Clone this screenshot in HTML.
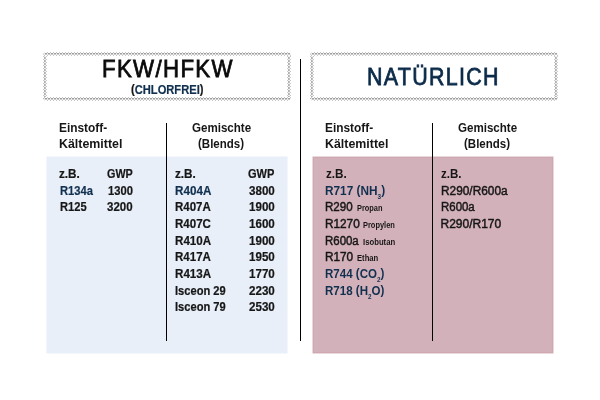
<!DOCTYPE html>
<html><head><meta charset="utf-8"><style>
html,body{margin:0;padding:0;background:#fff;}
body{width:600px;height:400px;position:relative;overflow:hidden;font-family:'Liberation Sans', sans-serif;}
#w{position:absolute;left:0;top:0;width:600px;height:400px;will-change:transform;}
.t{position:absolute;white-space:nowrap;line-height:1;transform-origin:0 0;}
</style></head><body>
<svg width="600" height="400" style="position:absolute;left:0;top:0"><rect x="46.5" y="156.5" width="241" height="197" fill="#e8eff9"/><rect x="312.5" y="156.5" width="241" height="197" fill="#d3b1ba"/><rect x="313" y="157" width="239" height="195" fill="none" stroke="#cfa8b2" stroke-width="1" transform="translate(0.5,0.5)"/></svg><svg width="600" height="400" style="position:absolute;left:0;top:0" shape-rendering="crispEdges"><defs><pattern id="pt1" patternUnits="userSpaceOnUse" x="1" y="52" width="3" height="4"><rect x="1" y="0" width="1" height="1" fill="#c2c2c2"/><rect x="0" y="1" width="1" height="1" fill="#a0a0a0"/><rect x="2" y="1" width="1" height="1" fill="#a0a0a0"/><rect x="1" y="1" width="1" height="1" fill="#ececec"/><rect x="0" y="2" width="1" height="1" fill="#c8c8c8"/><rect x="2" y="2" width="1" height="1" fill="#c8c8c8"/><rect x="1" y="2" width="1" height="1" fill="#eeeeee"/><rect x="1" y="3" width="1" height="1" fill="#c6c6c6"/></pattern><pattern id="pb1" patternUnits="userSpaceOnUse" x="1" y="97" width="3" height="4"><rect x="1" y="0" width="1" height="1" fill="#c2c2c2"/><rect x="0" y="1" width="1" height="1" fill="#a0a0a0"/><rect x="2" y="1" width="1" height="1" fill="#a0a0a0"/><rect x="1" y="1" width="1" height="1" fill="#ececec"/><rect x="0" y="2" width="1" height="1" fill="#c8c8c8"/><rect x="2" y="2" width="1" height="1" fill="#c8c8c8"/><rect x="1" y="2" width="1" height="1" fill="#eeeeee"/><rect x="1" y="3" width="1" height="1" fill="#c6c6c6"/></pattern><pattern id="pl1" patternUnits="userSpaceOnUse" x="43" y="1" width="4" height="3"><rect x="0" y="1" width="1" height="1" fill="#c8c8c8"/><rect x="1" y="0" width="1" height="1" fill="#b0b0b0"/><rect x="1" y="2" width="1" height="1" fill="#b0b0b0"/><rect x="1" y="1" width="1" height="1" fill="#efefef"/><rect x="2" y="0" width="1" height="1" fill="#c0c0c0"/><rect x="2" y="2" width="1" height="1" fill="#c0c0c0"/><rect x="2" y="1" width="1" height="1" fill="#efefef"/><rect x="3" y="1" width="1" height="1" fill="#c8c8c8"/></pattern><pattern id="pr1" patternUnits="userSpaceOnUse" x="287" y="1" width="4" height="3"><rect x="0" y="1" width="1" height="1" fill="#c8c8c8"/><rect x="1" y="0" width="1" height="1" fill="#b0b0b0"/><rect x="1" y="2" width="1" height="1" fill="#b0b0b0"/><rect x="1" y="1" width="1" height="1" fill="#efefef"/><rect x="2" y="0" width="1" height="1" fill="#c0c0c0"/><rect x="2" y="2" width="1" height="1" fill="#c0c0c0"/><rect x="2" y="1" width="1" height="1" fill="#efefef"/><rect x="3" y="1" width="1" height="1" fill="#c8c8c8"/></pattern><clipPath id="cl1"><path clip-rule="evenodd" d="M47,52H287Q291,52 291,56V97Q291,101 287,101H47Q43,101 43,97V56Q43,52 47,52Z M48.5,56H285.5Q287,56 287,57.5V95.5Q287,97 285.5,97H48.5Q47,97 47,95.5V57.5Q47,56 48.5,56Z"/></clipPath><pattern id="pt2" patternUnits="userSpaceOnUse" x="1" y="52" width="3" height="4"><rect x="1" y="0" width="1" height="1" fill="#c2c2c2"/><rect x="0" y="1" width="1" height="1" fill="#a0a0a0"/><rect x="2" y="1" width="1" height="1" fill="#a0a0a0"/><rect x="1" y="1" width="1" height="1" fill="#ececec"/><rect x="0" y="2" width="1" height="1" fill="#c8c8c8"/><rect x="2" y="2" width="1" height="1" fill="#c8c8c8"/><rect x="1" y="2" width="1" height="1" fill="#eeeeee"/><rect x="1" y="3" width="1" height="1" fill="#c6c6c6"/></pattern><pattern id="pb2" patternUnits="userSpaceOnUse" x="1" y="97" width="3" height="4"><rect x="1" y="0" width="1" height="1" fill="#c2c2c2"/><rect x="0" y="1" width="1" height="1" fill="#a0a0a0"/><rect x="2" y="1" width="1" height="1" fill="#a0a0a0"/><rect x="1" y="1" width="1" height="1" fill="#ececec"/><rect x="0" y="2" width="1" height="1" fill="#c8c8c8"/><rect x="2" y="2" width="1" height="1" fill="#c8c8c8"/><rect x="1" y="2" width="1" height="1" fill="#eeeeee"/><rect x="1" y="3" width="1" height="1" fill="#c6c6c6"/></pattern><pattern id="pl2" patternUnits="userSpaceOnUse" x="310" y="1" width="4" height="3"><rect x="0" y="1" width="1" height="1" fill="#c8c8c8"/><rect x="1" y="0" width="1" height="1" fill="#b0b0b0"/><rect x="1" y="2" width="1" height="1" fill="#b0b0b0"/><rect x="1" y="1" width="1" height="1" fill="#efefef"/><rect x="2" y="0" width="1" height="1" fill="#c0c0c0"/><rect x="2" y="2" width="1" height="1" fill="#c0c0c0"/><rect x="2" y="1" width="1" height="1" fill="#efefef"/><rect x="3" y="1" width="1" height="1" fill="#c8c8c8"/></pattern><pattern id="pr2" patternUnits="userSpaceOnUse" x="554" y="1" width="4" height="3"><rect x="0" y="1" width="1" height="1" fill="#c8c8c8"/><rect x="1" y="0" width="1" height="1" fill="#b0b0b0"/><rect x="1" y="2" width="1" height="1" fill="#b0b0b0"/><rect x="1" y="1" width="1" height="1" fill="#efefef"/><rect x="2" y="0" width="1" height="1" fill="#c0c0c0"/><rect x="2" y="2" width="1" height="1" fill="#c0c0c0"/><rect x="2" y="1" width="1" height="1" fill="#efefef"/><rect x="3" y="1" width="1" height="1" fill="#c8c8c8"/></pattern><clipPath id="cl2"><path clip-rule="evenodd" d="M314,52H554Q558,52 558,56V97Q558,101 554,101H314Q310,101 310,97V56Q310,52 314,52Z M315.5,56H552.5Q554,56 554,57.5V95.5Q554,97 552.5,97H315.5Q314,97 314,95.5V57.5Q314,56 315.5,56Z"/></clipPath></defs><g clip-path="url(#cl1)"><rect x="43" y="52" width="248" height="4" fill="url(#pt1)"/><rect x="43" y="97" width="248" height="4" fill="url(#pb1)"/><rect x="43" y="56" width="4" height="41" fill="url(#pl1)"/><rect x="287" y="56" width="4" height="41" fill="url(#pr1)"/></g><g clip-path="url(#cl2)"><rect x="310" y="52" width="248" height="4" fill="url(#pt2)"/><rect x="310" y="97" width="248" height="4" fill="url(#pb2)"/><rect x="310" y="56" width="4" height="41" fill="url(#pl2)"/><rect x="554" y="56" width="4" height="41" fill="url(#pr2)"/></g></svg>
<div style="position:absolute;left:300px;top:59px;width:1px;height:282px;background:#000;"></div><div style="position:absolute;left:166px;top:123px;width:1px;height:218px;background:#000;"></div><div style="position:absolute;left:432px;top:123px;width:1px;height:218px;background:#000;"></div>
<div id="w">
<div class="t" style="left:101.84px;top:57px;font-size:24.5px;font-weight:400;color:#0a0a0a;transform:scaleX(0.907);-webkit-text-stroke-width:0.8px;letter-spacing:1.5px;">FKW/HFKW</div><div class="t" style="left:130.70px;top:84px;font-size:12px;font-weight:700;color:#161616;transform:scaleX(0.929);-webkit-text-stroke-width:0.2px;"><span style="position:relative;top:-1.5px">(</span><span style="color:#11304f">CHLORFREI</span><span style="position:relative;top:-1.5px">)</span></div><div class="t" style="left:367.13px;top:65px;font-size:24.5px;font-weight:400;color:#0c2b49;transform:scaleX(0.874);-webkit-text-stroke-width:0.8px;letter-spacing:1.5px;">NATÜRLICH</div><div class="t" style="left:58.71px;top:122px;font-size:12px;font-weight:700;color:#161616;transform:scaleX(0.991);">Einstoff-</div><div class="t" style="left:58.67px;top:138px;font-size:12px;font-weight:700;color:#161616;transform:scaleX(1.033);">Kältemittel</div><div class="t" style="left:191.60px;top:122px;font-size:12px;font-weight:700;color:#161616;transform:scaleX(0.964);">Gemischte</div><div class="t" style="left:198.00px;top:138px;font-size:12px;font-weight:700;color:#161616;transform:scaleX(0.958);"><span style="position:relative;top:-1px">(</span>Blends<span style="position:relative;top:-1px">)</span></div><div class="t" style="left:324.61px;top:122px;font-size:12px;font-weight:700;color:#161616;transform:scaleX(0.991);">Einstoff-</div><div class="t" style="left:324.57px;top:138px;font-size:12px;font-weight:700;color:#161616;transform:scaleX(1.033);">Kältemittel</div><div class="t" style="left:457.70px;top:122px;font-size:12px;font-weight:700;color:#161616;transform:scaleX(0.964);">Gemischte</div><div class="t" style="left:464.10px;top:138px;font-size:12px;font-weight:700;color:#161616;transform:scaleX(0.958);"><span style="position:relative;top:-1px">(</span>Blends<span style="position:relative;top:-1px">)</span></div><div class="t" style="left:59.30px;top:168px;font-size:12px;font-weight:700;color:#161616;transform:scaleX(0.976);-webkit-text-stroke-width:0.2px;">z.B.</div><div class="t" style="left:107.10px;top:168px;font-size:12px;font-weight:700;color:#161616;transform:scaleX(0.900);-webkit-text-stroke-width:0.2px;">GWP</div><div class="t" style="left:60.00px;top:185px;font-size:12px;font-weight:700;color:#11304f;transform:scaleX(0.931);-webkit-text-stroke-width:0.2px;">R134a</div><div class="t" style="left:107.70px;top:185px;font-size:12px;font-weight:700;color:#161616;transform:scaleX(0.933);-webkit-text-stroke-width:0.2px;">1300</div><div class="t" style="left:60.00px;top:201px;font-size:12px;font-weight:700;color:#161616;transform:scaleX(0.928);-webkit-text-stroke-width:0.2px;">R125</div><div class="t" style="left:107.10px;top:201px;font-size:12px;font-weight:700;color:#161616;transform:scaleX(0.959);-webkit-text-stroke-width:0.2px;">3200</div><div class="t" style="left:175.30px;top:168px;font-size:12px;font-weight:700;color:#161616;transform:scaleX(0.976);-webkit-text-stroke-width:0.2px;">z.B.</div><div class="t" style="left:248.40px;top:168px;font-size:12px;font-weight:700;color:#161616;transform:scaleX(0.921);-webkit-text-stroke-width:0.2px;">GWP</div><div class="t" style="left:175.30px;top:185px;font-size:12px;font-weight:700;color:#11304f;transform:scaleX(0.973);-webkit-text-stroke-width:0.2px;">R404A</div><div class="t" style="left:249.00px;top:185px;font-size:12px;font-weight:700;color:#161616;transform:scaleX(0.967);-webkit-text-stroke-width:0.2px;">3800</div><div class="t" style="left:175.30px;top:201px;font-size:12px;font-weight:700;color:#161616;transform:scaleX(0.959);-webkit-text-stroke-width:0.2px;">R407A</div><div class="t" style="left:249.00px;top:201px;font-size:12px;font-weight:700;color:#161616;transform:scaleX(0.967);-webkit-text-stroke-width:0.2px;">1900</div><div class="t" style="left:175.30px;top:218px;font-size:12px;font-weight:700;color:#161616;transform:scaleX(0.962);-webkit-text-stroke-width:0.2px;">R407C</div><div class="t" style="left:249.00px;top:218px;font-size:12px;font-weight:700;color:#161616;transform:scaleX(0.967);-webkit-text-stroke-width:0.2px;">1600</div><div class="t" style="left:175.30px;top:235px;font-size:12px;font-weight:700;color:#161616;transform:scaleX(0.968);-webkit-text-stroke-width:0.2px;">R410A</div><div class="t" style="left:249.00px;top:235px;font-size:12px;font-weight:700;color:#161616;transform:scaleX(0.967);-webkit-text-stroke-width:0.2px;">1900</div><div class="t" style="left:175.30px;top:251px;font-size:12px;font-weight:700;color:#161616;transform:scaleX(0.962);-webkit-text-stroke-width:0.2px;">R417A</div><div class="t" style="left:249.00px;top:251px;font-size:12px;font-weight:700;color:#161616;transform:scaleX(0.967);-webkit-text-stroke-width:0.2px;">1950</div><div class="t" style="left:175.30px;top:268px;font-size:12px;font-weight:700;color:#161616;transform:scaleX(0.968);-webkit-text-stroke-width:0.2px;">R413A</div><div class="t" style="left:249.00px;top:268px;font-size:12px;font-weight:700;color:#161616;transform:scaleX(0.967);-webkit-text-stroke-width:0.2px;">1770</div><div class="t" style="left:175.30px;top:285px;font-size:12px;font-weight:700;color:#161616;transform:scaleX(0.927);-webkit-text-stroke-width:0.2px;">Isceon 29</div><div class="t" style="left:249.00px;top:285px;font-size:12px;font-weight:700;color:#161616;transform:scaleX(0.967);-webkit-text-stroke-width:0.2px;">2230</div><div class="t" style="left:175.30px;top:301px;font-size:12px;font-weight:700;color:#161616;transform:scaleX(0.927);-webkit-text-stroke-width:0.2px;">Isceon 79</div><div class="t" style="left:249.00px;top:301px;font-size:12px;font-weight:700;color:#161616;transform:scaleX(0.967);-webkit-text-stroke-width:0.2px;">2530</div><div class="t" style="left:325.70px;top:168px;font-size:12px;font-weight:700;color:#161616;transform:scaleX(0.976);">z.B.</div><div class="t" style="left:324.71px;top:185px;font-size:12px;font-weight:700;color:#11304f;transform:scaleX(0.985);">R717 <span style="position:relative;top:-1px">(</span>NH<span style="font-size:6.5px;position:relative;top:3.7px">3</span><span style="position:relative;top:-1px">)</span></div><div class="t" style="left:324.74px;top:201px;font-size:12px;font-weight:400;color:#161616;transform:scaleX(0.964);-webkit-text-stroke-width:0.45px;">R290</div><div class="t" style="left:356.80px;top:205px;font-size:8.2px;font-weight:700;color:#161616;transform:scaleX(0.904);">Propan</div><div class="t" style="left:324.62px;top:218px;font-size:12px;font-weight:400;color:#161616;transform:scaleX(0.982);-webkit-text-stroke-width:0.45px;">R1270</div><div class="t" style="left:363.20px;top:222px;font-size:8.2px;font-weight:700;color:#161616;transform:scaleX(0.909);">Propylen</div><div class="t" style="left:324.65px;top:235px;font-size:12px;font-weight:400;color:#161616;transform:scaleX(0.954);-webkit-text-stroke-width:0.45px;">R600a</div><div class="t" style="left:362.90px;top:239px;font-size:8.2px;font-weight:700;color:#161616;transform:scaleX(0.944);">Isobutan</div><div class="t" style="left:324.62px;top:251px;font-size:12px;font-weight:400;color:#161616;transform:scaleX(0.982);-webkit-text-stroke-width:0.45px;">R170</div><div class="t" style="left:356.80px;top:255px;font-size:8.2px;font-weight:700;color:#161616;transform:scaleX(0.936);">Ethan</div><div class="t" style="left:324.84px;top:268px;font-size:12px;font-weight:700;color:#11304f;transform:scaleX(0.963);">R744 <span style="position:relative;top:-1px">(</span>CO<span style="font-size:6.5px;position:relative;top:3.7px">2</span><span style="position:relative;top:-1px">)</span></div><div class="t" style="left:324.84px;top:285px;font-size:12px;font-weight:700;color:#11304f;transform:scaleX(0.963);">R718 <span style="position:relative;top:-1px">(</span>H<span style="font-size:6.5px;position:relative;top:3.7px">2</span>O<span style="position:relative;top:-1px">)</span></div><div class="t" style="left:441.10px;top:168px;font-size:12px;font-weight:700;color:#161616;transform:scaleX(0.962);">z.B.</div><div class="t" style="left:440.51px;top:185px;font-size:12px;font-weight:400;color:#161616;transform:scaleX(0.988);-webkit-text-stroke-width:0.45px;">R290/R600a</div><div class="t" style="left:440.55px;top:201px;font-size:12px;font-weight:400;color:#161616;transform:scaleX(0.954);-webkit-text-stroke-width:0.45px;">R600a</div><div class="t" style="left:440.50px;top:218px;font-size:12px;font-weight:400;color:#161616;transform:scaleX(1.000);-webkit-text-stroke-width:0.45px;">R290/R170</div>
</div>
</body></html>
